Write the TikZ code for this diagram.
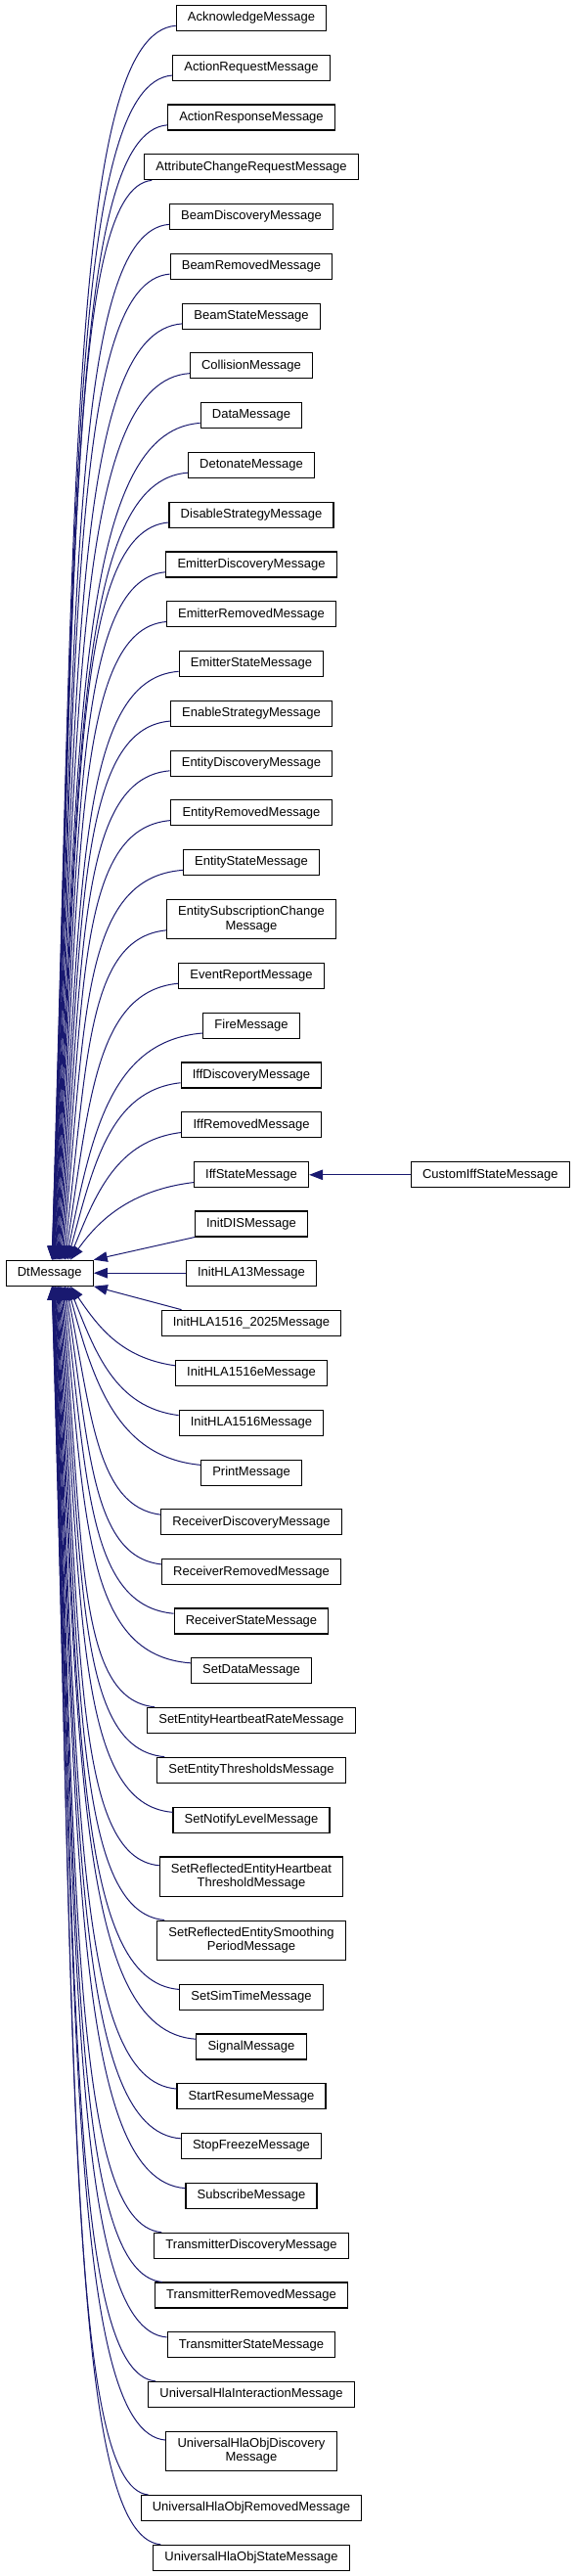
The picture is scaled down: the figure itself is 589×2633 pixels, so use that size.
\documentclass[tikz,border=0pt]{standalone}
\usepackage{fontspec}
\setmainfont{Liberation Sans}
\usetikzlibrary{arrows.meta,calc}
\definecolor{edgeblue}{HTML}{191970}
\newcommand\topedge[2]{%
 \draw[edge] let \p1=(#1.west), \p2=(#1.south), \p3=($(dt.north west)+(#2,0)$),
   \n1={ifthenelse(\x1<162,(\x1)+8,\x1)},
   \n2={ifthenelse(\x1<162,\y2,(\y1)-0.5*((\y1)-(\y2))-1)},
   \n7={(\n2)-(\y3)},
   \n8={min(1,(\n7)/400)},
   \n3={(0.45+0.40*(\n8))*((\n1)-(\x3))},
   \n4={(0.45+0.17*(\n8))*(\n7)},
   \n5={28-4*(\n8)}
 in (\n1,\n2) .. controls +(-\n3,-8) and +(\n5,\n4) .. (\p3);}
\newcommand\botedge[2]{%
 \draw[edge] let \p1=(#1.west), \p2=(#1.north), \p3=($(dt.south west)+(#2,0)$),
   \n1={ifthenelse(\x1<162,(\x1)+8,\x1)},
   \n2={ifthenelse(\x1<162,\y2,(\y1)+0.5*((\y2)-(\y1))+1)},
   \n7={(\y3)-(\n2)},
   \n8={min(1,(\n7)/400)},
   \n3={(0.45+0.40*(\n8))*((\n1)-(\x3))},
   \n4={(0.45+0.17*(\n8))*(\n7)},
   \n5={28-4*(\n8)}
 in (\n1,\n2) .. controls +(-\n3,8) and +(\n5,-\n4) .. (\p3);}
\begin{document}
\begin{tikzpicture}[x=1pt,y=1pt,
  cls/.style={draw=black, line width=1.1pt, fill=white, rectangle, align=center,
    font=\fontsize{13}{14.3}\selectfont, inner xsep=11.7pt, inner ysep=2pt, minimum height=26pt},
  two/.style={minimum height=40.3pt},
  edge/.style={draw=edgeblue, line width=1pt, -{Triangle[length=14pt,width=10.5pt,fill=edgeblue]}}]
\fill[white] (0,0) rectangle (589,-2633);
\useasboundingbox (0,0) rectangle (589,-2633);
\node[cls] (dt) at (50.7,-1301.2) {DtMessage};
\node[cls] (cust) at (501.3,-1200.8) {CustomIffStateMessage};
\node[cls] (c1) at (257,-18.5) {AcknowledgeMessage};
\node[cls] (c2) at (257,-69.27) {ActionRequestMessage};
\node[cls] (c3) at (257,-120.04) {ActionResponseMessage};
\node[cls] (c4) at (257,-170.81) {AttributeChangeRequestMessage};
\node[cls] (c5) at (257,-221.58) {BeamDiscoveryMessage};
\node[cls] (c6) at (257,-272.35) {BeamRemovedMessage};
\node[cls] (c7) at (257,-323.12) {BeamStateMessage};
\node[cls] (c8) at (257,-373.89) {CollisionMessage};
\node[cls] (c9) at (257,-424.66) {DataMessage};
\node[cls] (c10) at (257,-475.43) {DetonateMessage};
\node[cls] (c11) at (257,-526.20) {DisableStrategyMessage};
\node[cls] (c12) at (257,-576.97) {EmitterDiscoveryMessage};
\node[cls] (c13) at (257,-627.74) {EmitterRemovedMessage};
\node[cls] (c14) at (257,-678.51) {EmitterStateMessage};
\node[cls] (c15) at (257,-729.28) {EnableStrategyMessage};
\node[cls] (c16) at (257,-780.05) {EntityDiscoveryMessage};
\node[cls] (c17) at (257,-830.82) {EntityRemovedMessage};
\node[cls] (c18) at (257,-881.59) {EntityStateMessage};
\node[cls,two] (c19) at (257,-939.51) {EntitySubscriptionChange\\Message};
\node[cls] (c20) at (257,-997.43) {EventReportMessage};
\node[cls] (c21) at (257,-1048.20) {FireMessage};
\node[cls] (c22) at (257,-1098.97) {IffDiscoveryMessage};
\node[cls] (c23) at (257,-1149.74) {IffRemovedMessage};
\node[cls] (c24) at (257,-1200.8) {IffStateMessage};
\node[cls] (c25) at (257,-1251.0) {InitDISMessage};
\node[cls] (c26) at (257,-1301.2) {InitHLA13Message};
\node[cls] (c27) at (257,-1352.2) {InitHLA1516\_2025Message};
\node[cls] (c28) at (257,-1403.59) {InitHLA1516eMessage};
\node[cls] (c29) at (257,-1454.36) {InitHLA1516Message};
\node[cls] (c30) at (257,-1505.13) {PrintMessage};
\node[cls] (c31) at (257,-1555.90) {ReceiverDiscoveryMessage};
\node[cls] (c32) at (257,-1606.67) {ReceiverRemovedMessage};
\node[cls] (c33) at (257,-1657.0) {ReceiverStateMessage};
\node[cls] (c34) at (257,-1707.6) {SetDataMessage};
\node[cls] (c35) at (257,-1758.3) {SetEntityHeartbeatRateMessage};
\node[cls] (c36) at (257,-1809.2) {SetEntityThresholdsMessage};
\node[cls] (c37) at (257,-1860.1) {SetNotifyLevelMessage};
\node[cls,two] (c38) at (257,-1918.1) {SetReflectedEntityHeartbeat\\ThresholdMessage};
\node[cls,two] (c39) at (257,-1983.2) {SetReflectedEntitySmoothing\\PeriodMessage};
\node[cls] (c40) at (257,-2041.2) {SetSimTimeMessage};
\node[cls] (c41) at (257,-2092.0) {SignalMessage};
\node[cls] (c42) at (257,-2142.8) {StartResumeMessage};
\node[cls] (c43) at (257,-2193.6) {StopFreezeMessage};
\node[cls] (c44) at (257,-2244.4) {SubscribeMessage};
\node[cls] (c45) at (257,-2295.2) {TransmitterDiscoveryMessage};
\node[cls] (c46) at (257,-2346.0) {TransmitterRemovedMessage};
\node[cls] (c47) at (257,-2396.7) {TransmitterStateMessage};
\node[cls] (c48) at (257,-2447.4) {UniversalHlaInteractionMessage};
\node[cls,two] (c49) at (257,-2505.4) {UniversalHlaObjDiscovery\\Message};
\node[cls] (c50) at (257,-2563.5) {UniversalHlaObjRemovedMessage};
\node[cls] (c51) at (257,-2614.3) {UniversalHlaObjStateMessage};
\foreach \i in {1,...,24}{%
  \pgfmathsetmacro\off{47.5+19*(\i/24)^2}%
  \topedge{c\i}{\off}}
\foreach \j in {28,...,51}{%
  \pgfmathsetmacro\off{47.5+19*((52-\j)/24)^2}%
  \botedge{c\j}{\off}}
\draw[edge] (c25.south west) -- (dt.north east);
\draw[edge] (c26) -- (dt);
\draw[edge] ($(c27.north west)+(21,0)$) -- (dt.south east);
\draw[edge] (cust) -- (c24);
\end{tikzpicture}
\end{document}
